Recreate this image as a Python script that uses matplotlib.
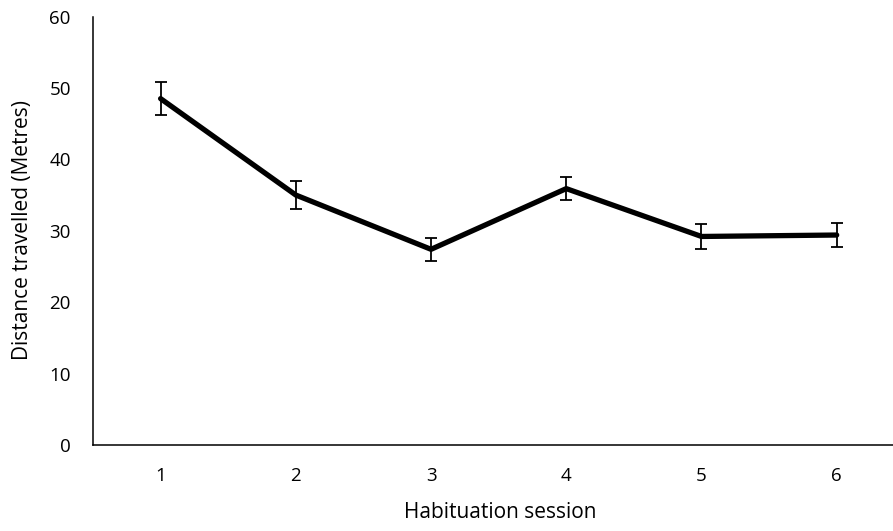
import matplotlib
matplotlib.use("Agg")
import matplotlib.pyplot as plt

sessions = [1, 2, 3, 4, 5, 6]
distance = [48.5, 35.0, 27.4, 35.9, 29.2, 29.4]
sem = [2.3, 1.9, 1.6, 1.6, 1.7, 1.7]
y_ticks = [0, 10, 20, 30, 40, 50, 60]

plt.rcParams["font.family"] = ["Open Sans", "DejaVu Sans"]

fig = plt.figure(figsize=(8.93, 5.31), dpi=100)
W, H = 893, 531
left, right, top, bottom = 93, 904.3, 16.5, 445
ax = fig.add_axes([left / W, 1 - bottom / H, (right - left) / W, (bottom - top) / H])

ax.errorbar(sessions, distance, yerr=sem, color="black", lw=3.8,
            ecolor="black", elinewidth=1.3, capsize=4.2, capthick=1.3,
            solid_capstyle="round", solid_joinstyle="round")

ax.set_xlim(0.5, 6.5)
ax.set_ylim(0, 60)
ax.set_yticks(y_ticks)
ax.set_xticks(sessions)
ax.tick_params(axis="both", length=0, labelsize=13.5, colors="black")
ax.tick_params(axis="y", pad=16)
ax.tick_params(axis="x", pad=16)

for s in ["top", "right"]:
    ax.spines[s].set_visible(False)
for s in ["left", "bottom"]:
    ax.spines[s].set_linewidth(1.1)
    ax.spines[s].set_color("black")

ax.set_xlabel("Habituation session", fontsize=15)
ax.set_ylabel("Distance travelled (Metres)", fontsize=15)
ax.xaxis.label.set_va("baseline")
ax.xaxis.set_label_coords((500 - left) / (right - left), -(518 - bottom) / (bottom - top))
ax.yaxis.label.set_rotation_mode("anchor")
ax.yaxis.label.set_va("baseline")
ax.yaxis.label.set_ha("center")
ax.yaxis.set_label_coords(-(left - 28) / (right - left), (bottom - 230) / (bottom - top))

fig.savefig("out.png", dpi=100)
